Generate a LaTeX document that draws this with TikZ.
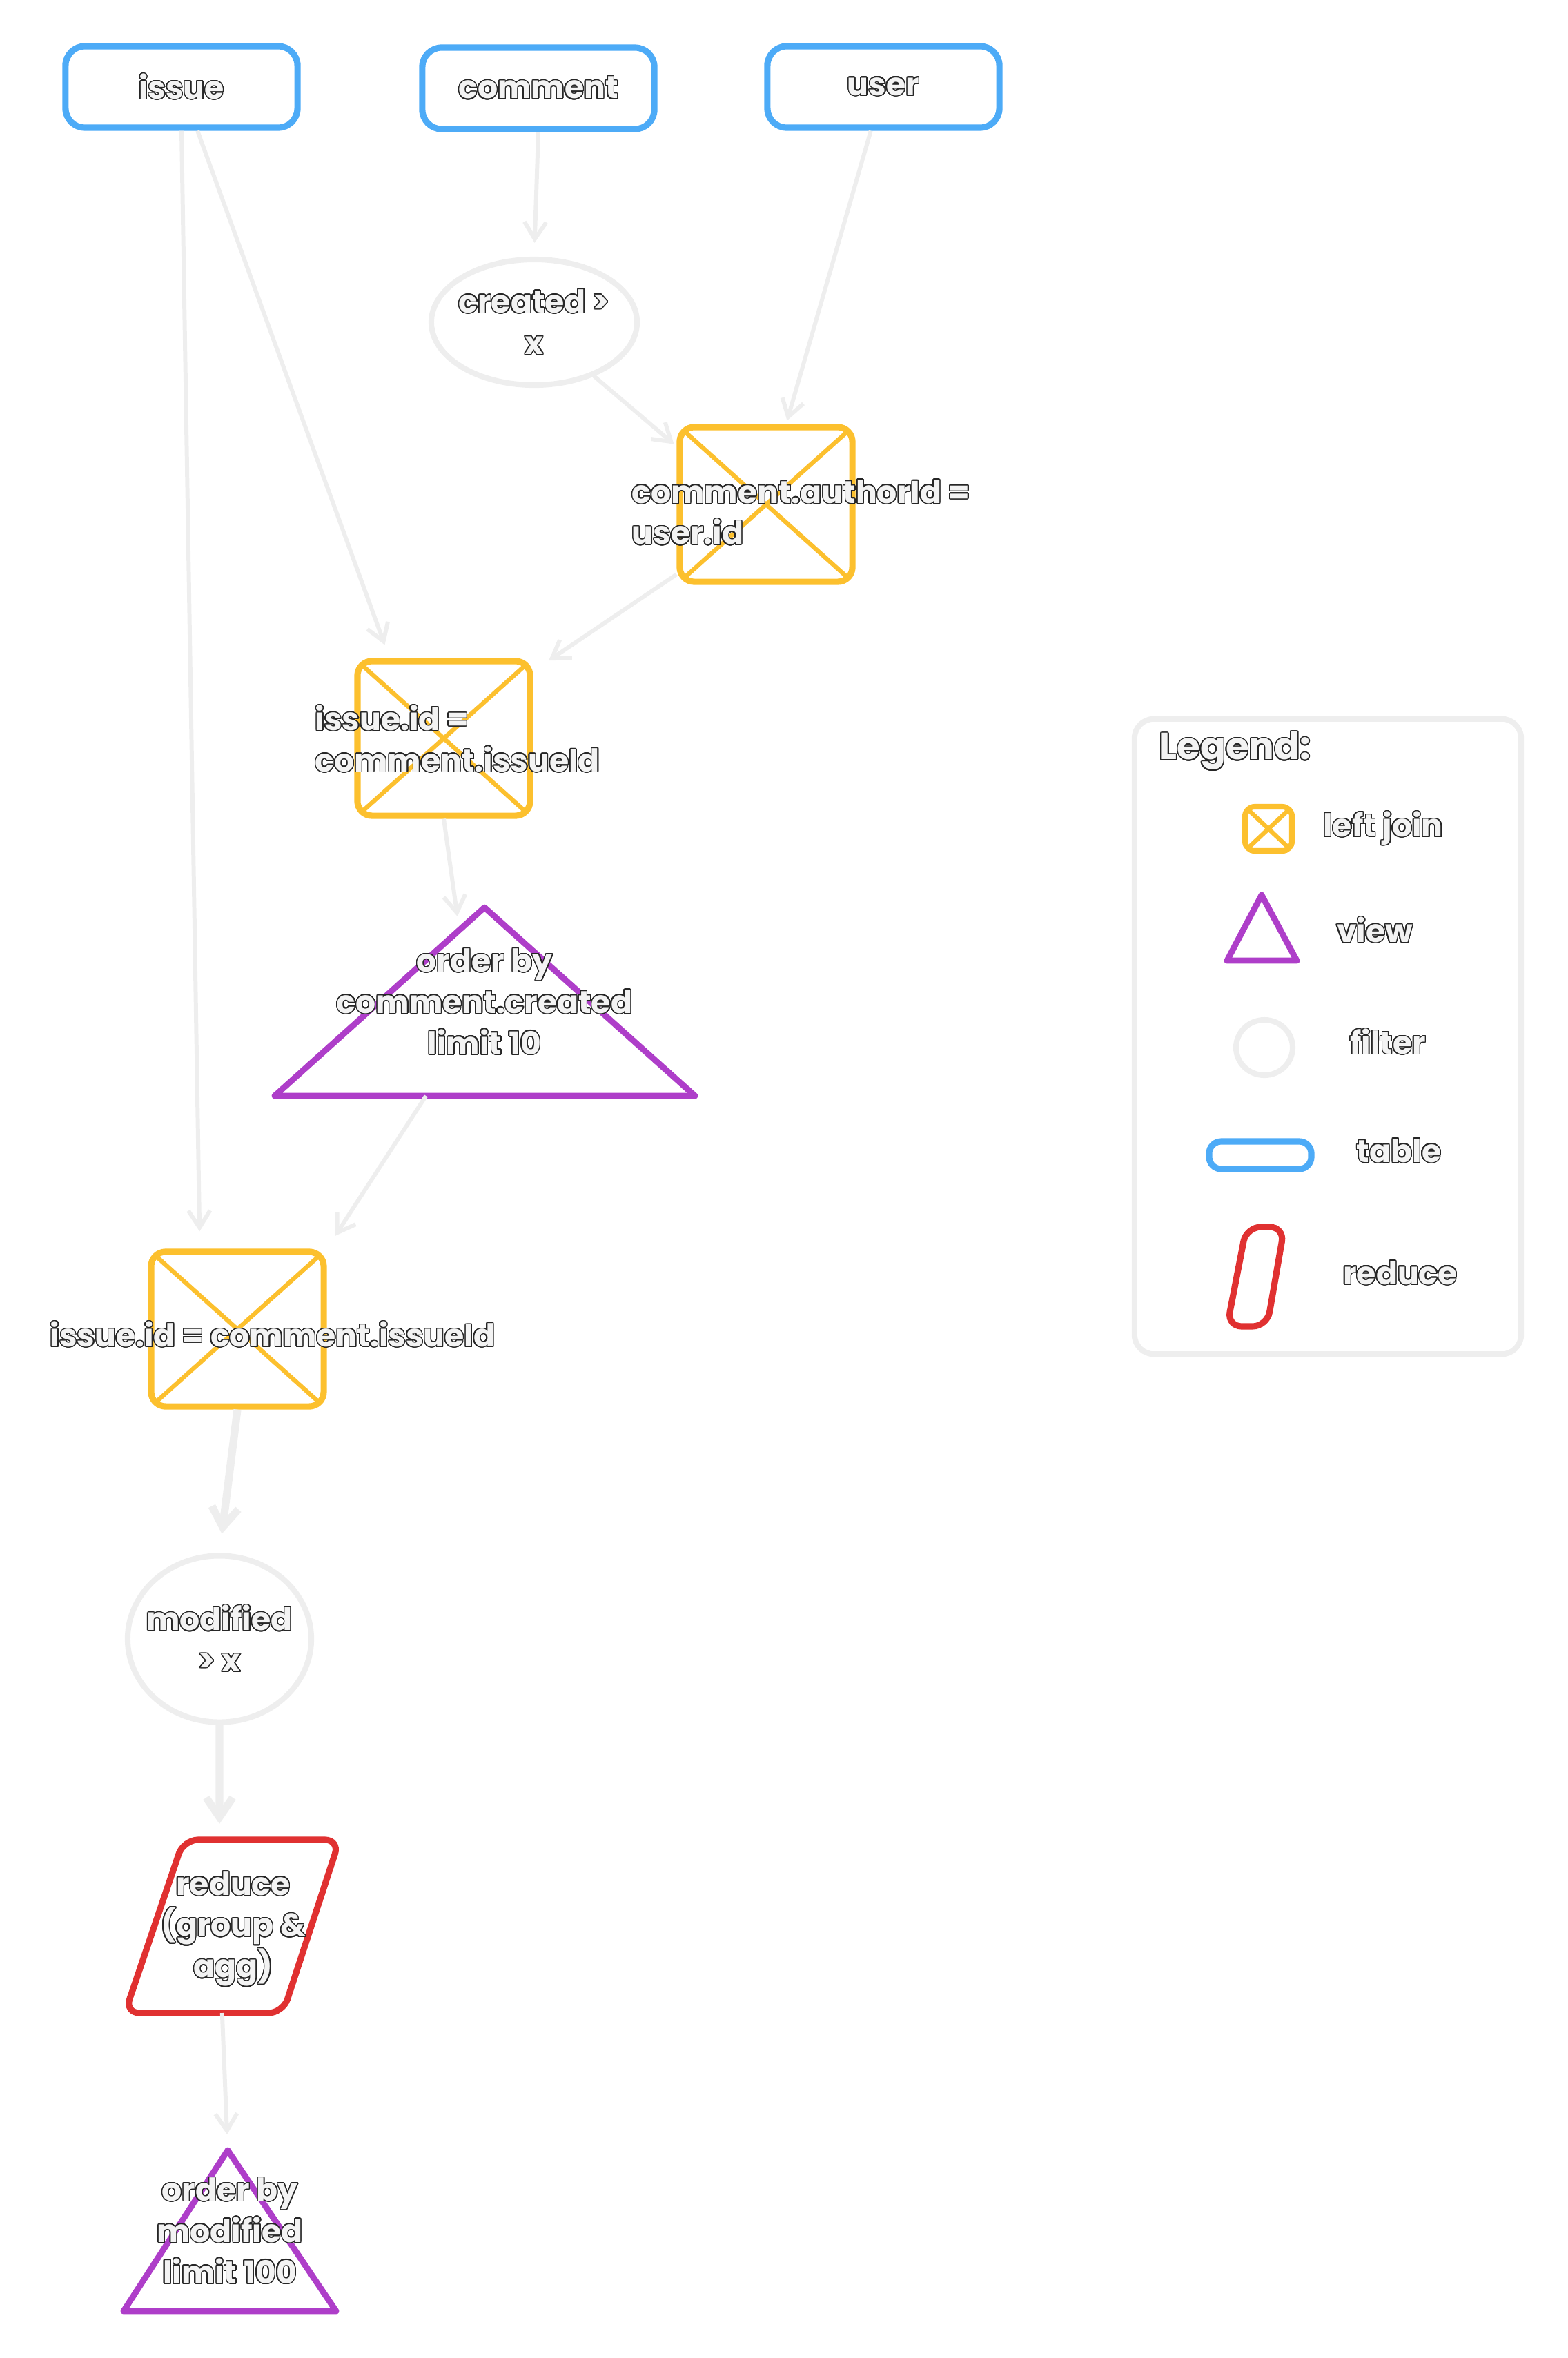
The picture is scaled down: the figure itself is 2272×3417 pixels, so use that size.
\documentclass[tikz,border=0pt]{standalone}
\usepackage{fontspec}
\setmainfont{Poppins}
\usepackage[copies]{contour}
\usepackage{xcolor}
\usetikzlibrary{shapes.geometric,arrows.meta,calc}
\definecolor{tblue}{HTML}{4DABF7}
\definecolor{jyellow}{HTML}{FCC02E}
\definecolor{vpurple}{HTML}{AE3EC9}
\definecolor{rred}{HTML}{E03131}
\definecolor{lgray}{HTML}{EEEEEE}
\definecolor{txtfill}{HTML}{F3F3F3}
\contourlength{0.4pt}
\contournumber{24}
\newcommand{\outl}[1]{\contour{black!85}{#1}}

\begin{document}
\begin{tikzpicture}[x=0.01cm,y=-0.01cm,
	lbl/.style={text=txtfill,font=\fontsize{13}{17}\selectfont\bfseries,inner sep=0pt},
	tbl/.style={draw=tblue,line width=2.6pt,rounded corners=8pt,minimum width=3.36cm,minimum height=1.18cm,lbl},
	ljoin/.style={draw=jyellow,line width=2.6pt,rounded corners=6pt,minimum width=2.5cm,minimum height=2.24cm,
		path picture={\draw[jyellow,line width=1.8pt] (path picture bounding box.north west) -- (path picture bounding box.south east)
			(path picture bounding box.north east) -- (path picture bounding box.south west);}},
	filt/.style={ellipse,draw=lgray,line width=2.3pt,inner sep=0pt},
	view/.style={draw=vpurple,line width=2.5pt,line join=round},
	rdc/.style={draw=rred,line width=2.6pt,rounded corners=6pt},
	flow/.style={color=lgray,line width=1.7pt,-{Straight Barb[length=7pt,width=9pt]}},
	bigflow/.style={flow,line width=3.2pt,-{Straight Barb[length=8pt,width=11pt]}}]
	\useasboundingbox (0,0) rectangle (2272,3417);

	\node[tbl] (issue) at (263,126) {\outl{issue}};
	\node[tbl] (comment) at (780,128) {\outl{comment}};
	\node[tbl] (user) at (1280,126) {\outl{user}};

	\node[filt,minimum width=2.98cm,minimum height=1.82cm] (created) at (774,467) {};

	\node[ljoin] (authorjoin) at (1110,731) {};
	\node[ljoin] (issuejoin) at (643,1070) {};

	\coordinate (v1a) at (702,1315);
	\coordinate (v1l) at (398,1588);
	\coordinate (v1r) at (1007,1588);
	\draw[view] (v1a) -- (v1r) -- (v1l) -- cycle;

	\node[ljoin] (topjoin) at (344,1926) {};

	\node[filt,minimum width=2.66cm,minimum height=2.41cm] (modified) at (318,2375) {};

	\coordinate (rtl) at (266,2666);
	\coordinate (rtr) at (492,2666);
	\coordinate (rbr) at (410,2917);
	\coordinate (rbl) at (181,2917);
	\draw[rdc] (rtl) -- (rtr) -- (rbr) -- (rbl) -- cycle;

	\coordinate (v2a) at (330,3116);
	\coordinate (v2l) at (179,3349);
	\coordinate (v2r) at (487,3349);
	\draw[view] (v2a) -- (v2r) -- (v2l) -- cycle;

	\path[flow]
	(issue.south) edge[shorten >=0.25cm] (topjoin.115)
	(issue.-70) edge[shorten >=0.2cm] (issuejoin.124)
	(comment.south) edge[shorten >=0.2cm] (created.north)
	(user.-106) edge[shorten >=0.05cm] (authorjoin.76)
	(created.-42) edge[shorten >=0.05cm] (authorjoin.147)
	(authorjoin.-142) edge[shorten >=0.27cm] (issuejoin.37)
	(issuejoin.south) edge[shorten >=0.2cm] ($(v1a)!0.12!(v1l)$)
	($(v1l)!0.36!(v1r)$) edge[shorten >=0.22cm] (topjoin.north east)
	($(rbl)!0.615!(rbr)$) edge[shorten >=0.23cm] (v2a);
	\path[bigflow]
	(topjoin.south) edge[shorten >=0.28cm] (modified.north)
	(modified.south) edge[shorten >=0.23cm] ($(rtl)!0.23!(rtr)$);

	\node[lbl,align=center] (createdlbl) at (created) {\outl{created >}\\\outl{x}};
	\node[lbl,anchor=west,align=left] (authorlbl) at (915,743) {\outl{comment.authorId =}\\\outl{user.id}};
	\node[lbl,anchor=west,align=left] (issuelbl) at (456,1071) {\outl{issue.id =}\\\outl{comment.issueId}};
	\node[lbl,align=center] (latestlbl) at (702,1452) {\outl{order by}\\\outl{comment.created}\\\outl{limit 10}};
	\node[lbl] (toplbl) at (395,1934) {\outl{issue.id = comment.issueId}};
	\node[lbl,align=center] (modifiedlbl) at (modified) {\outl{modified}\\\outl{> x}};
	\node[lbl,align=center] (reducelbl) at (338,2796) {\outl{reduce}\\\outl{(group \&}\\\outl{agg)}};
	\node[lbl,align=center] (top100lbl) at (333,3233) {\outl{order by}\\\outl{modified}\\\outl{limit 100}};

	\node[draw=lgray,line width=2.3pt,rounded corners=8pt,minimum width=5.6cm,minimum height=9.2cm] (legend) at (1924,1502) {};
	\node[lbl,font=\fontsize{15.5}{20}\selectfont\bfseries,anchor=west] (legendtitle) at (1679,1089) {\outl{Legend:}};
	\node[ljoin,line width=2.3pt,rounded corners=4pt,minimum width=0.68cm,minimum height=0.64cm] (keyjoin) at (1838,1201) {};
	\node[lbl] (keyjoinlbl) at (2004,1201) {\outl{left join}};
	\draw[view] (1828,1297) -- (1879,1392) -- (1778,1392) -- cycle;
	\node[lbl] (keyviewlbl) at (1992,1348) {\outl{view}};
	\node[filt,minimum width=0.82cm,minimum height=0.8cm] (keyfilt) at (1832,1518) {};
	\node[lbl] (keyfiltlbl) at (2011,1510) {\outl{filter}};
	\node[tbl,minimum width=1.48cm,minimum height=0.4cm,rounded corners=5pt] (keytbl) at (1826,1674) {};
	\node[lbl] (keytbllbl) at (2027,1668) {\outl{table}};
	\draw[rdc] (1806,1778) -- (1861,1778) -- (1836,1922) -- (1778,1922) -- cycle;
	\node[lbl] (keyrdclbl) at (2029,1845) {\outl{reduce}};
\end{tikzpicture}
\end{document}
